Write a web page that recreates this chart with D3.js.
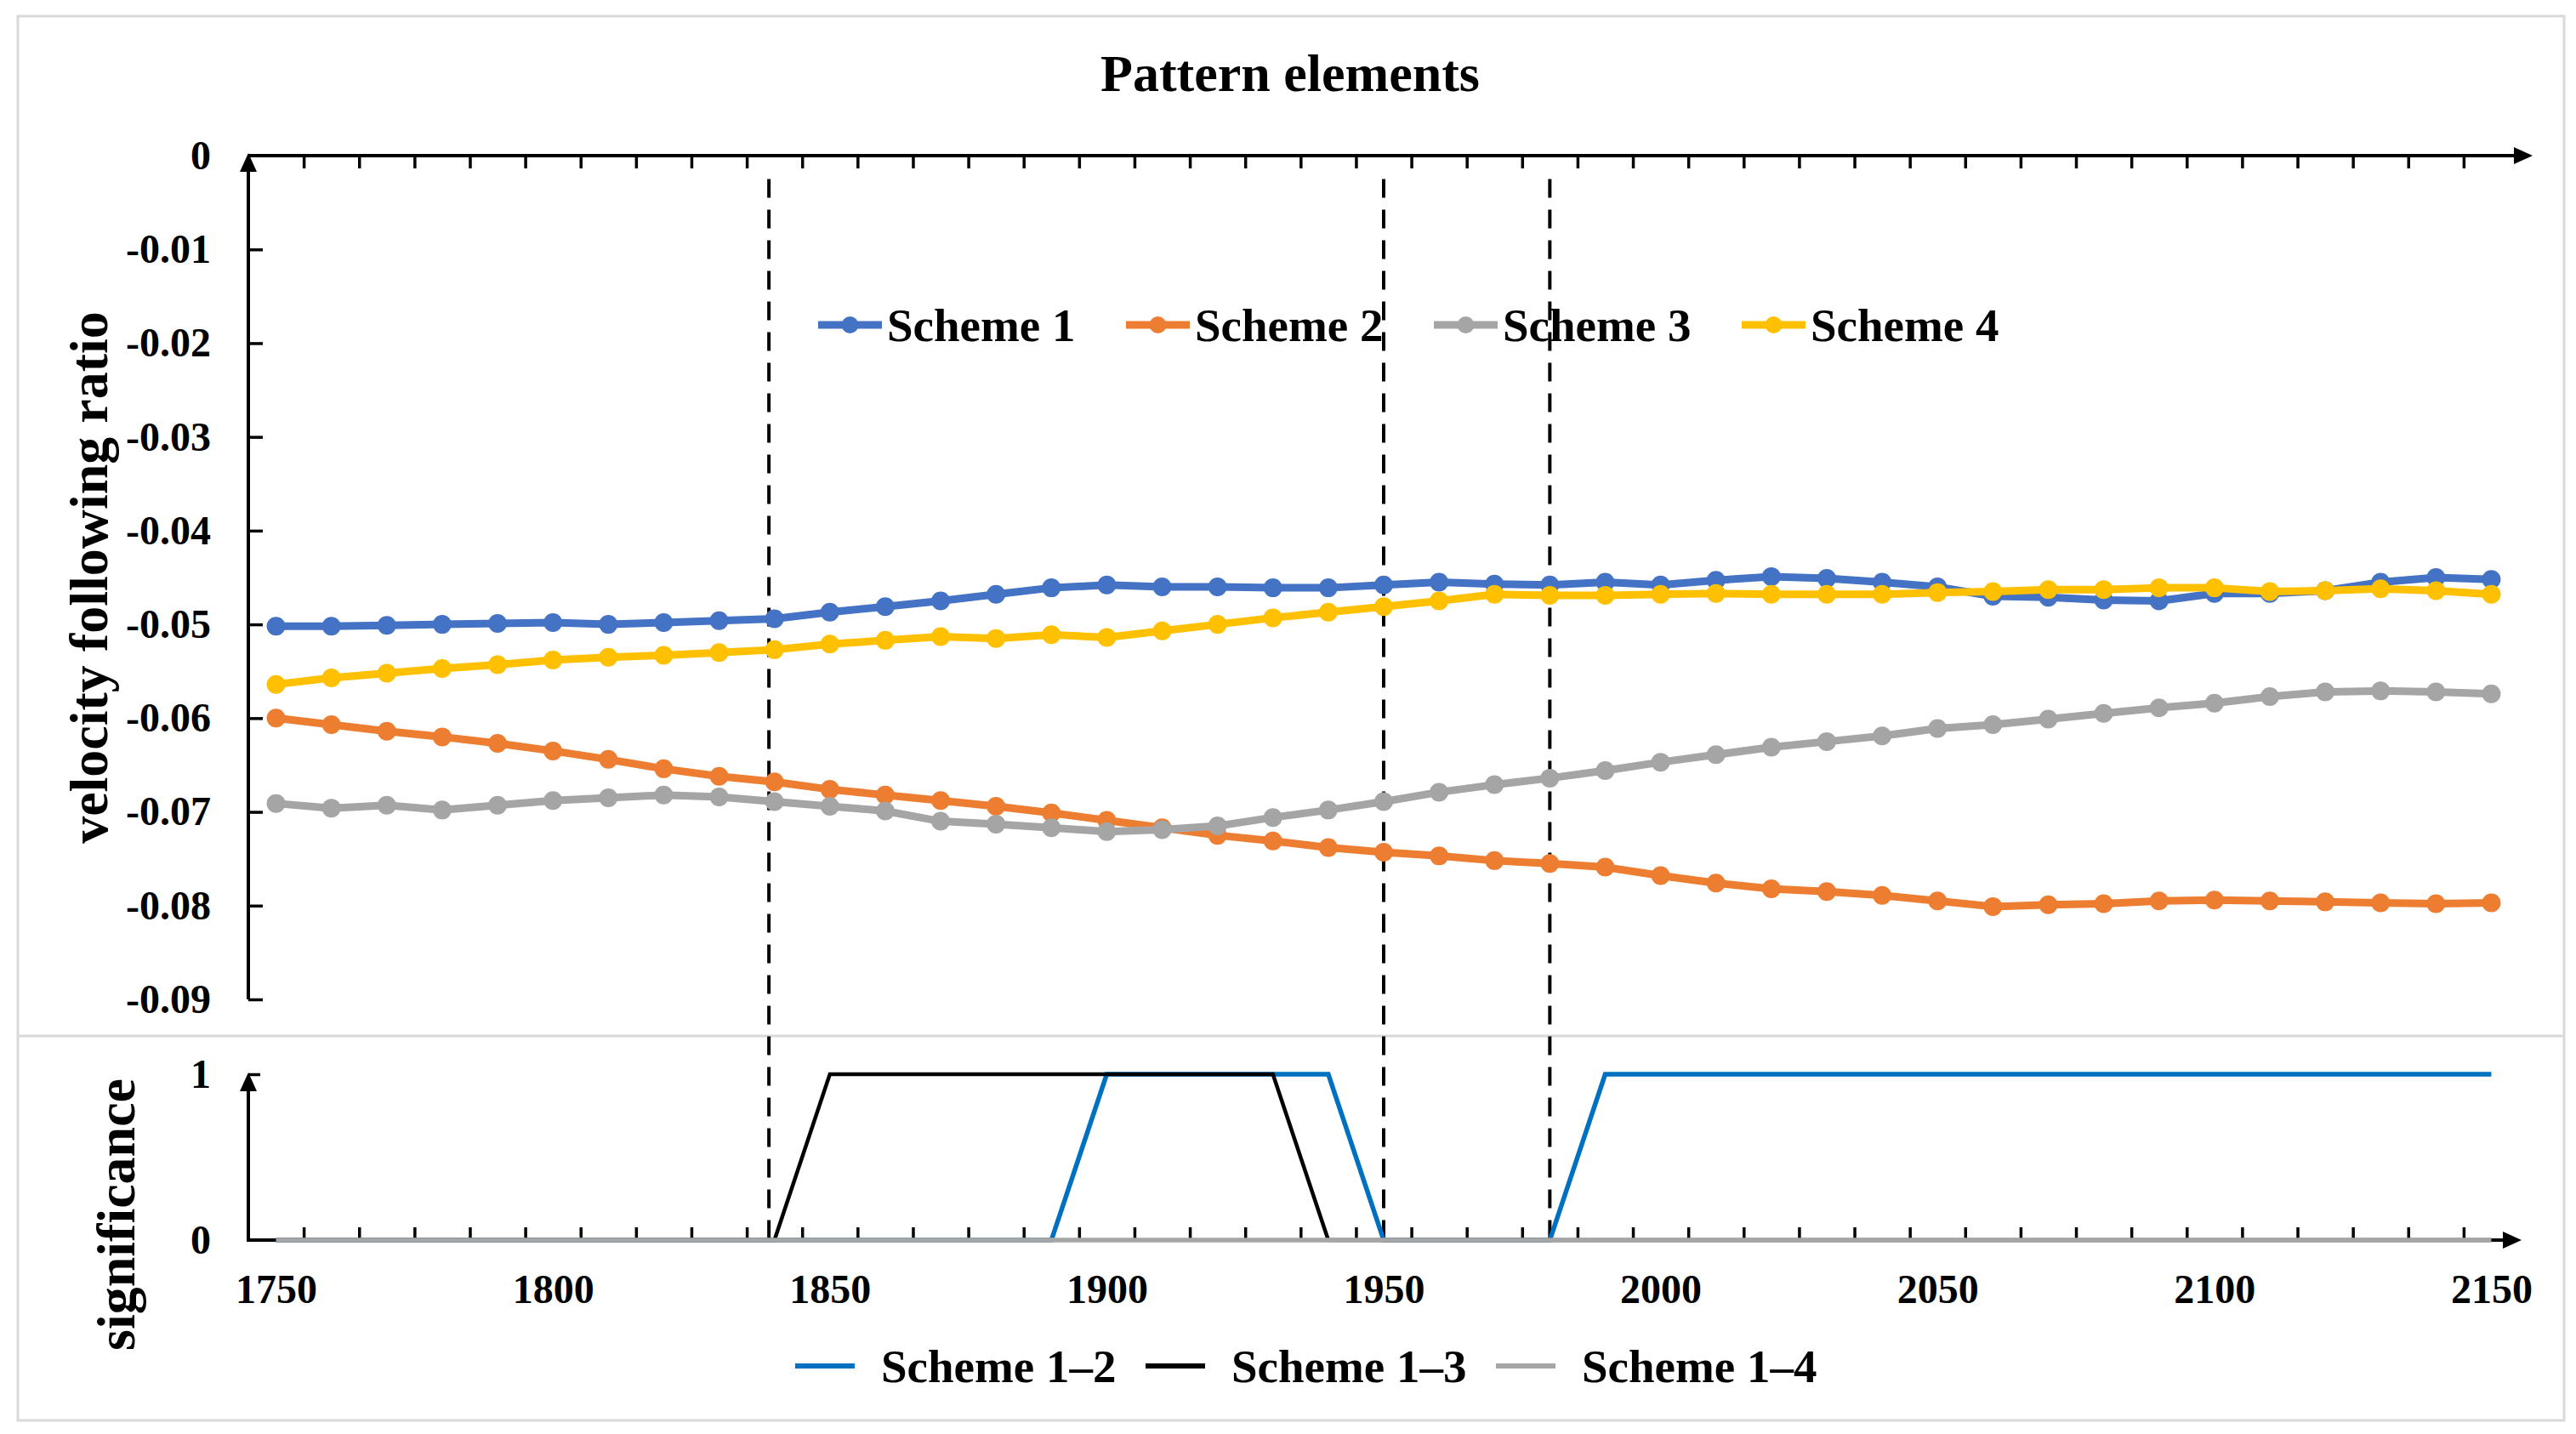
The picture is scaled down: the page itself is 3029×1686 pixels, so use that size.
<!DOCTYPE HTML>
<html>
<head>
    <meta charset="utf-8" />
    <title>Pattern elements</title>
    <style type="text/css">
        body
        {
            margin: 0;
            background: #fff;
            overflow: hidden;
        }

        #container svg text
        {
            font-family: "Liberation Serif", "Times New Roman", serif;
            font-weight: bold;
            fill: #000;
        }
    </style>
    <script src="https://cdn.jsdelivr.net/npm/d3@7/dist/d3.min.js"></script>
</head>
<body>
    <div id="container">
    </div>
    <script type="text/javascript">

        // ---- data ----
        var years = [1750, 1760, 1770, 1780, 1790, 1800, 1810, 1820, 1830, 1840,
                     1850, 1860, 1870, 1880, 1890, 1900, 1910, 1920, 1930, 1940,
                     1950, 1960, 1970, 1980, 1990, 2000, 2010, 2020, 2030, 2040,
                     2050, 2060, 2070, 2080, 2090, 2100, 2110, 2120, 2130, 2140, 2150];

        var scheme1 = [-0.0502, -0.0502, -0.0501, -0.0500, -0.0499, -0.0498, -0.0500, -0.0498, -0.0496, -0.0494,
                       -0.0487, -0.0481, -0.0475, -0.0468, -0.0461, -0.0458, -0.0460, -0.0460, -0.0461, -0.0461,
                       -0.0458, -0.0455, -0.0457, -0.0458, -0.0455, -0.0458, -0.0453, -0.0449, -0.0451, -0.0455,
                       -0.0460, -0.0470, -0.0471, -0.0474, -0.0475, -0.0467, -0.0467, -0.0464, -0.0455, -0.0450, -0.0452];

        var scheme2 = [-0.0600, -0.0607, -0.0614, -0.0620, -0.0627, -0.0635, -0.0644, -0.0654, -0.0662, -0.0668,
                       -0.0676, -0.0682, -0.0688, -0.0694, -0.0701, -0.0709, -0.0717, -0.0725, -0.0731, -0.0738,
                       -0.0743, -0.0747, -0.0752, -0.0755, -0.0759, -0.0768, -0.0776, -0.0782, -0.0785, -0.0789,
                       -0.0795, -0.0801, -0.0799, -0.0798, -0.0795, -0.0794, -0.0795, -0.0796, -0.0797, -0.0798, -0.0797];

        var scheme3 = [-0.0691, -0.0696, -0.0693, -0.0698, -0.0693, -0.0688, -0.0685, -0.0682, -0.0684, -0.0689,
                       -0.0694, -0.0699, -0.0710, -0.0713, -0.0717, -0.0721, -0.0719, -0.0715, -0.0706, -0.0698,
                       -0.0689, -0.0679, -0.0671, -0.0664, -0.0656, -0.0647, -0.0639, -0.0631, -0.0625, -0.0619,
                       -0.0611, -0.0607, -0.0601, -0.0595, -0.0589, -0.0584, -0.0577, -0.0572, -0.0571, -0.0572, -0.0574];

        var scheme4 = [-0.0564, -0.0557, -0.0552, -0.0547, -0.0543, -0.0538, -0.0535, -0.0533, -0.0530, -0.0527,
                       -0.0521, -0.0517, -0.0513, -0.0515, -0.0511, -0.0514, -0.0507, -0.0500, -0.0493, -0.0487,
                       -0.0481, -0.0475, -0.0468, -0.0469, -0.0469, -0.0468, -0.0467, -0.0468, -0.0468, -0.0468,
                       -0.0466, -0.0465, -0.0463, -0.0463, -0.0461, -0.0461, -0.0465, -0.0464, -0.0462, -0.0464, -0.0468];

        var sig12 = [0, 0, 0, 0, 0, 0, 0, 0, 0, 0,
                     0, 0, 0, 0, 0, 1, 1, 1, 1, 1,
                     0, 0, 0, 0, 1, 1, 1, 1, 1, 1,
                     1, 1, 1, 1, 1, 1, 1, 1, 1, 1, 1];

        var sig13 = [0, 0, 0, 0, 0, 0, 0, 0, 0, 0,
                     1, 1, 1, 1, 1, 1, 1, 1, 1, 0,
                     0, 0, 0, 0, 0, 0, 0, 0, 0, 0,
                     0, 0, 0, 0, 0, 0, 0, 0, 0, 0, 0];

        var sig14 = [0, 0, 0, 0, 0, 0, 0, 0, 0, 0,
                     0, 0, 0, 0, 0, 0, 0, 0, 0, 0,
                     0, 0, 0, 0, 0, 0, 0, 0, 0, 0,
                     0, 0, 0, 0, 0, 0, 0, 0, 0, 0, 0];

        var schemeNames = ["Scheme 1", "Scheme 2", "Scheme 3", "Scheme 4"];
        var sigNames = ["Scheme 1\u20132", "Scheme 1\u20133", "Scheme 1\u20134"];
        var breakYears = [1839, 1950, 1980];

        var xLabels = [1750, 1800, 1850, 1900, 1950, 2000, 2050, 2100, 2150];
        var yLabels = [0, -0.01, -0.02, -0.03, -0.04, -0.05, -0.06, -0.07, -0.08, -0.09];
        var sigLabels = [0, 1];

        var schemeColors = ["#4472C4", "#ED7D31", "#A5A5A5", "#FFC000"];
        var sigColors = ["#0070C0", "#000000", "#A6A6A6"];

        function arrow(g, tipX, tipY, dir) {
            // small filled triangle at an axis end
            var l = 22, w = 10, pts;
            if (dir == "up")
                pts = [[tipX, tipY], [tipX - w, tipY + l], [tipX + w, tipY + l]];
            else
                pts = [[tipX, tipY], [tipX - l, tipY - w], [tipX - l, tipY + w]];
            g.append("polygon").attr("points", pts.map(function (p) { return p.join(","); }).join(" "))
                .attr("fill", "#000");
        }

        function styleAxis(g, size) {
            g.select(".domain").remove();
            g.attr("font-family", null).attr("font-size", size);
            g.selectAll(".tick line").attr("stroke", "#000").attr("stroke-width", 3.5);
        }

        function drawChart(chart) {
            var x = d3.scaleLinear().domain([1745, 2155]).range([292, 2962]);
            var yTop = d3.scaleLinear().domain([-0.09, 0]).range([1175, 183]);
            var yBot = d3.scaleLinear().domain([0, 1]).range([1458, 1263]);
            var minorTicks = d3.range(1755, 2150, 10);
            var fmt = function (d) { return d == 0 ? "0" : d.toFixed(2); };

            // frames of the two stacked charts
            chart.append("rect").attr("x", 21).attr("y", 19).attr("width", 2994).attr("height", 1651)
                .attr("fill", "none").attr("stroke", "#D9D9D9").attr("stroke-width", 3);
            chart.append("line").attr("x1", 21).attr("x2", 3015).attr("y1", 1218).attr("y2", 1218)
                .attr("stroke", "#D9D9D9").attr("stroke-width", 3);

            chart.append("text").attr("x", 1517).attr("y", 107).attr("text-anchor", "middle")
                .attr("font-size", 62).text("Pattern elements");

            // ---- top panel axes ----
            var ax = chart.append("g");
            ax.append("line").attr("x1", x(1745)).attr("x2", 2960).attr("y1", yTop(0)).attr("y2", yTop(0))
                .attr("stroke", "#000").attr("stroke-width", 4);
            arrow(ax, 2978, yTop(0), "right");
            ax.append("line").attr("x1", x(1745)).attr("x2", x(1745)).attr("y1", yTop(-0.09)).attr("y2", yTop(0) + 10)
                .attr("stroke", "#000").attr("stroke-width", 4);
            arrow(ax, x(1745), yTop(0) - 3, "up");

            ax.append("g").attr("transform", "translate(0," + yTop(0) + ")")
                .call(d3.axisBottom(x).tickValues(minorTicks).tickSize(15).tickFormat(""))
                .call(styleAxis, 48);
            ax.append("g").attr("transform", "translate(" + x(1745) + ",0)")
                .call(d3.axisRight(yTop).tickValues(yLabels.slice(1)).tickSize(17).tickFormat(""))
                .call(styleAxis, 48);
            ax.append("g").attr("transform", "translate(" + x(1745) + ",0)")
                .call(d3.axisLeft(yTop).tickValues(yLabels).tickSize(0).tickPadding(44).tickFormat(fmt))
                .call(styleAxis, 48);

            chart.append("text").attr("transform", "translate(126," + yTop(-0.045) + ") rotate(-90)")
                .attr("text-anchor", "middle").attr("font-size", 64).text("velocity following ratio");

            // ---- bottom panel axes ----
            var bx = chart.append("g");
            bx.append("line").attr("x1", x(1745)).attr("x2", 2948).attr("y1", yBot(0)).attr("y2", yBot(0))
                .attr("stroke", "#000").attr("stroke-width", 4);
            arrow(bx, 2965, yBot(0), "right");
            bx.append("line").attr("x1", x(1745)).attr("x2", x(1745)).attr("y1", yBot(0) + 2).attr("y2", yBot(1) + 12)
                .attr("stroke", "#000").attr("stroke-width", 4);
            arrow(bx, x(1745), yBot(1) - 2, "up");

            bx.append("g").attr("transform", "translate(0," + yBot(0) + ")")
                .call(d3.axisTop(x).tickValues(minorTicks).tickSize(15).tickFormat(""))
                .call(styleAxis, 48);
            bx.append("g").attr("transform", "translate(0," + yBot(0) + ")")
                .call(d3.axisBottom(x).tickValues(xLabels).tickSize(0).tickPadding(40).tickFormat(d3.format("d")))
                .call(styleAxis, 48);
            bx.append("g").attr("transform", "translate(" + x(1745) + ",0)")
                .call(d3.axisRight(yBot).tickValues([1]).tickSize(14).tickFormat(""))
                .call(styleAxis, 48);
            bx.append("g").attr("transform", "translate(" + x(1745) + ",0)")
                .call(d3.axisLeft(yBot).tickValues(sigLabels).tickSize(0).tickPadding(44).tickFormat(d3.format("d")))
                .call(styleAxis, 48);

            chart.append("text").attr("transform", "translate(158,1428) rotate(-90)")
                .attr("text-anchor", "middle").attr("font-size", 64).text("significance");

            // ---- dashed break lines ----
            chart.append("g").selectAll("line").data(breakYears).enter().append("line")
                .attr("x1", function (d) { return x(d); }).attr("x2", function (d) { return x(d); })
                .attr("y1", yTop(-0.0025)).attr("y2", yBot(-0.01))
                .attr("stroke", "#000").attr("stroke-width", 4).attr("stroke-dasharray", "22,14");

            // ---- significance lines ----
            var sigLine = d3.line().x(function (d, i) { return x(years[i]); }).y(function (d) { return yBot(d); });
            [sig12, sig13, sig14].forEach(function (s, k) {
                chart.append("path").attr("d", sigLine(s)).attr("fill", "none")
                    .attr("stroke", sigColors[k]).attr("stroke-width", k == 1 ? 4.5 : 5.5);
            });

            // ---- scheme lines ----
            var line = d3.line().x(function (d, i) { return x(years[i]); }).y(function (d) { return yTop(d); });
            [scheme1, scheme2, scheme3, scheme4].forEach(function (s, k) {
                var g = chart.append("g");
                g.append("path").attr("d", line(s)).attr("fill", "none")
                    .attr("stroke", schemeColors[k]).attr("stroke-width", 9).attr("stroke-linejoin", "round");
                g.selectAll("circle").data(s).enter().append("circle")
                    .attr("cx", function (d, i) { return x(years[i]); })
                    .attr("cy", function (d) { return yTop(d); })
                    .attr("r", 11).attr("fill", schemeColors[k]);
            });

            // ---- legends ----
            var lg = chart.append("g");
            schemeNames.forEach(function (name, k) {
                var x0 = 962 + k * 362, y0 = 382;
                lg.append("line").attr("x1", x0).attr("x2", x0 + 75).attr("y1", y0).attr("y2", y0)
                    .attr("stroke", schemeColors[k]).attr("stroke-width", 9);
                lg.append("circle").attr("cx", x0 + 37.5).attr("cy", y0).attr("r", 10).attr("fill", schemeColors[k]);
                lg.append("text").attr("x", x0 + 81).attr("y", y0).attr("dy", "0.35em")
                    .attr("font-size", 55).text(name);
            });

            var lb = chart.append("g");
            sigNames.forEach(function (name, k) {
                var x0 = 935 + k * 412, y0 = 1606;
                lb.append("line").attr("x1", x0).attr("x2", x0 + 70).attr("y1", y0).attr("y2", y0)
                    .attr("stroke", sigColors[k]).attr("stroke-width", 6);
                lb.append("text").attr("x", x0 + 101).attr("y", y0).attr("dy", "0.35em")
                    .attr("font-size", 55).text(name);
            });
        }

        var chart = d3.select("#container").append("svg")
            .attr("width", 3029).attr("height", 1686);
        drawChart(chart);
    </script>
</body>
</html>
